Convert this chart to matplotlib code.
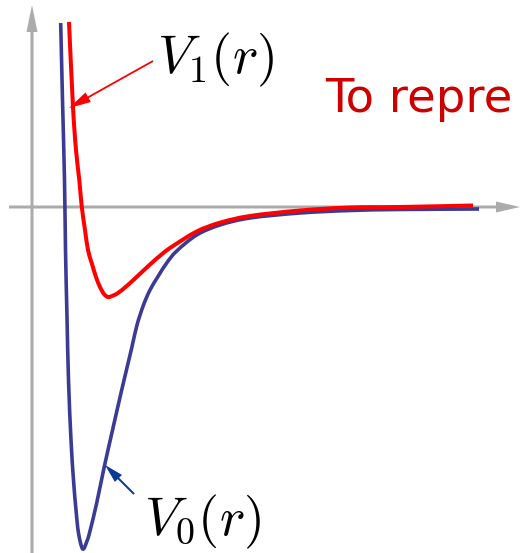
import matplotlib

matplotlib.use("Agg")
import matplotlib.pyplot as plt
import numpy as np
from matplotlib.path import Path
from matplotlib.patches import PathPatch

plt.rcParams["mathtext.fontset"] = "cm"

# ground-state potential V0(r): deep, narrow well
r_v0 = [0.287, 0.305, 0.325, 0.335, 0.35, 0.365, 0.39, 0.415, 0.44, 0.465,
        0.507, 0.55, 0.58, 0.647, 0.72, 0.81, 0.897, 0.997, 1.05, 1.115,
        1.18, 1.26, 1.347, 1.447, 1.647, 1.88, 2.18, 2.68, 3.18, 3.68, 4.47]
v0 = [1.84, 1.07, 0.27, -0.43, -1.10, -1.73, -2.33, -2.73, -3.03, -3.26,
      -3.42, -3.34, -3.24, -2.96, -2.61, -2.21, -1.83, -1.41, -1.18, -0.98,
      -0.83, -0.695, -0.56, -0.44, -0.28, -0.18, -0.11, -0.06, -0.035, -0.025,
      -0.02]

# excited potential V1(r): shallower well, shifted outwards
r_v1 = [0.37, 0.41, 0.44, 0.473, 0.497, 0.53, 0.56, 0.597, 0.64, 0.68,
        0.72, 0.76, 0.80, 0.86, 0.947, 1.03, 1.18, 1.313, 1.41, 1.647,
        1.88, 2.18, 2.68, 3.18, 3.68, 4.41]
v1 = [1.85, 1.00, 0.57, 0.27, 0.01, -0.23, -0.43, -0.56, -0.70, -0.80,
      -0.87, -0.90, -0.89, -0.86, -0.79, -0.715, -0.575, -0.46, -0.39, -0.245,
      -0.157, -0.09, -0.035, -0.005, 0.0, 0.015]

label_v1 = r"$V_1(r)$"
label_v0 = r"$V_0(r)$"
caption = "To repre"

AXIS_GREY = "#ababab"
BLUE = "#3b3b96"
RED = "#ff0000"


def smooth_curve(xs, ys):
    """Bezier path through every point (Catmull-Rom style tangents)."""
    p = np.column_stack([xs, ys])
    ext = np.vstack([p[0], p, p[-1]])
    verts = [p[0]]
    codes = [Path.MOVETO]
    for i in range(len(p) - 1):
        p0, p1, p2, p3 = ext[i], ext[i + 1], ext[i + 2], ext[i + 3]
        verts += [p1 + (p2 - p0) / 6, p2 - (p3 - p1) / 6, p2]
        codes += [Path.CURVE4] * 3
    return Path(verts, codes)


fig = plt.figure(figsize=(5.2, 5.53), dpi=100)
ax = fig.add_axes([0, 0, 1, 1])
ax.set_xlim(-0.32, 4.88)
ax.set_ylim(-3.46, 2.07)
ax.axis("off")

# coordinate axes with arrow heads
ax.arrow(-0.23, 0, 5.11, 0, width=0.03, head_width=0.11, head_length=0.24,
         length_includes_head=True, color=AXIS_GREY, lw=0, zorder=1)
ax.arrow(0, -3.5, 0, 5.52, width=0.03, head_width=0.11, head_length=0.27,
         length_includes_head=True, color=AXIS_GREY, lw=0, zorder=1)

ax.add_patch(PathPatch(smooth_curve(r_v0, v0), fill=False, edgecolor=BLUE,
                       lw=2.6, capstyle="butt", joinstyle="round", zorder=2))
ax.add_patch(PathPatch(smooth_curve(r_v1, v1), fill=False, edgecolor=RED,
                       lw=2.9, capstyle="butt", joinstyle="round", zorder=3))

# pointers from the labels to their curves
ax.arrow(1.21, 1.46, -0.84, -0.47, width=0.018, head_width=0.11,
         head_length=0.22, length_includes_head=True, color=RED, lw=0, zorder=4)
ax.arrow(1.02, -2.87, -0.29, 0.29, width=0.02, head_width=0.10,
         head_length=0.19, length_includes_head=True, color="#0b3a96", lw=0,
         zorder=4)

ax.text(1.25, 1.34, label_v1, fontsize=39, ha="left", va="baseline", color="black")
ax.text(1.12, -3.28, label_v0, fontsize=39, ha="left", va="baseline", color="black")
ax.text(2.93, 0.95, caption, fontsize=33.5, ha="left", va="baseline",
        color="#cc0000", family="DejaVu Sans")

fig.savefig("out.png", dpi=100)
